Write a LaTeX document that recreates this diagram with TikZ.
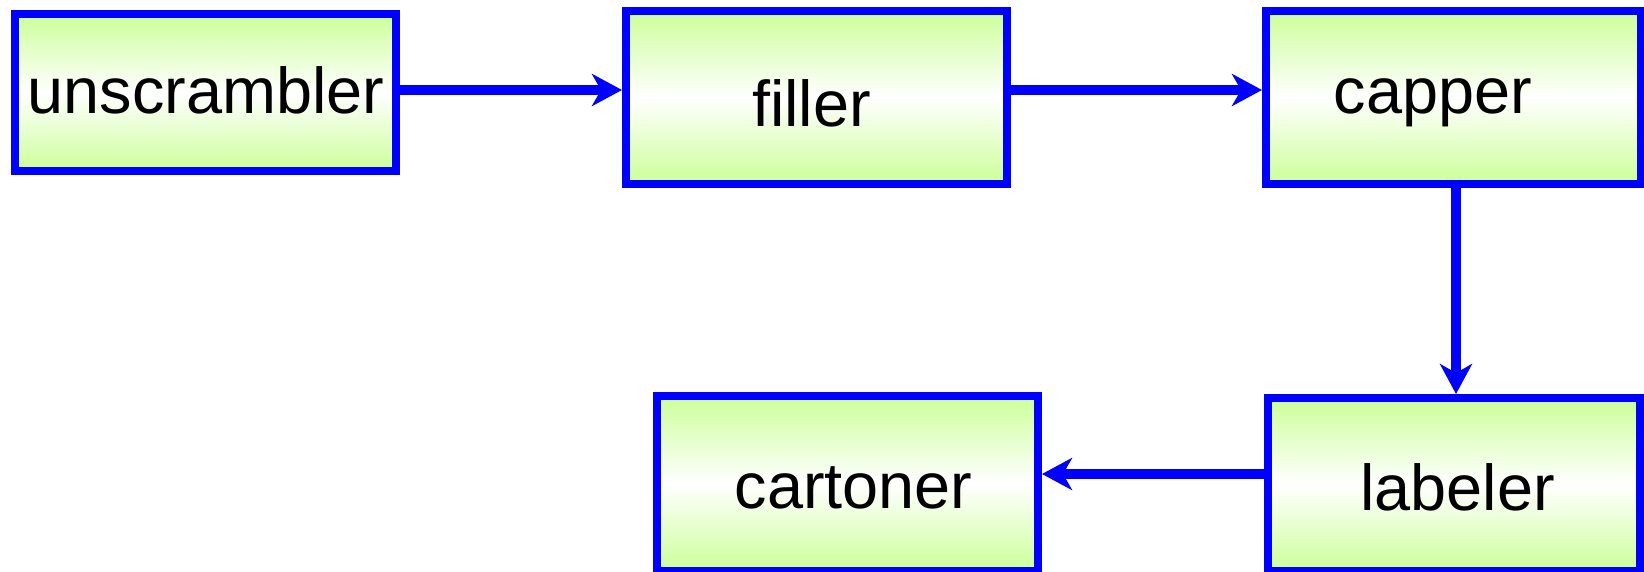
\documentclass[tikz,border=0pt]{standalone}
\usepackage{fontspec}
\setmainfont{Liberation Sans}
\usetikzlibrary{arrows.meta}
\definecolor{lgreen}{RGB}{204,255,153}
\definecolor{pblue}{RGB}{0,0,255}
\begin{document}
\begin{tikzpicture}[x=1pt,y=-1pt,
  boxnode/.style={draw=pblue, line width=8pt, inner sep=0pt, outer sep=4pt,
    rectangle, top color=lgreen, bottom color=lgreen, middle color=white},
  lbl/.style={inner sep=0pt, anchor=base, font=\fontsize{64.8}{70}\selectfont},
  arr/.style={draw=pblue, line width=10pt,
    -{Stealth[length=30pt,width=32pt,inset=9pt]}}]
\useasboundingbox (0,0) rectangle (1644,571);
% boxes
\node[boxnode, minimum width=381pt, minimum height=157pt] (unscr) at (205.5,92.5) {};
\node[boxnode, minimum width=381pt, minimum height=173pt] (filler) at (816.5,97.5) {};
\node[boxnode, minimum width=375pt, minimum height=173pt] (capper) at (1453.5,97.5) {};
\node[boxnode, minimum width=372pt, minimum height=173pt] (labeler) at (1454,484.5) {};
\node[boxnode, minimum width=381pt, minimum height=175pt] (cartoner) at (847.5,483.5) {};
% texts
\node[lbl] (tunscr) at (206,113) {unscrambler};
\node[lbl] (tfiller) at (811.5,126) {filler};
\node[lbl] (tcapper) at (1433,113) {capper};
\node[lbl] (tlabeler) at (1457.5,510) {labeler};
\node[lbl] (tcartoner) at (853.5,508) {cartoner};
% connectors
\draw[arr] (unscr.east |- 0,90) -- (filler.west |- 0,90);
\draw[arr] (filler.east |- 0,90) -- (capper.west |- 0,90);
\draw[arr] (capper.south -| 1456,0) -- (labeler.north -| 1456,0);
\draw[arr] (labeler.west |- 0,474) -- (cartoner.east |- 0,474);
\end{tikzpicture}
\end{document}
